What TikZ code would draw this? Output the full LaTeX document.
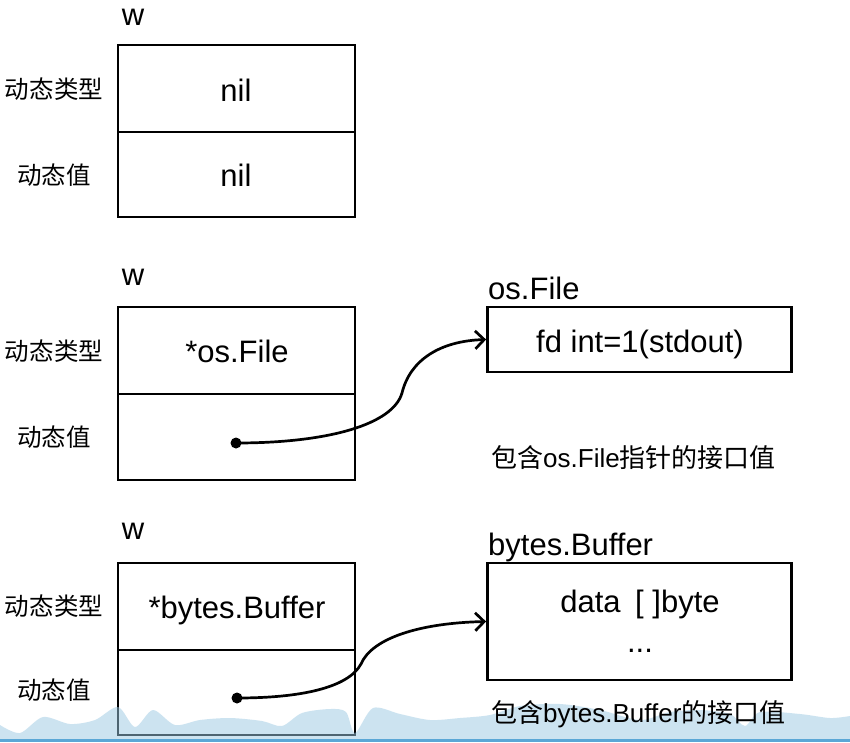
\documentclass[tikz,border=0pt]{standalone}
\usepackage{fontspec}
\setmainfont{Liberation Sans}
\newfontfamily\cjk{Noto Sans CJK SC}
\usetikzlibrary{arrows.meta}
\definecolor{wave}{RGB}{155,201,227}
\definecolor{waveline}{RGB}{90,167,214}
\tikzset{
  cell/.style={draw, line width=2.8pt, inner sep=0pt},
  lbl/.style={font=\cjk\fontsize{24.5}{28}\selectfont, anchor=center, inner sep=0pt},
  txt/.style={font=\fontsize{31}{36}\selectfont, anchor=base, inner sep=0pt},
  captxt/.style={font=\fontsize{26}{30}\selectfont, anchor=west, inner sep=0pt},
  dotnode/.style={circle, fill, inner sep=0pt, minimum size=11pt},
  ptr/.style={line width=2.7pt, -{Straight Barb[length=9pt,width=18pt,line width=2.7pt]}},
}
\begin{document}
\begin{tikzpicture}[x=1pt,y=-1pt]
\useasboundingbox (0,0) rectangle (850,742);
\fill[white] (0,0) rectangle (850,742);

% ---- block 1 ----
\node[txt] (w1) at (133,25) {w};
\node[cell, minimum width=237pt, minimum height=87pt] (t1) at (236.5,88.5) {};
\node[cell, minimum width=237pt, minimum height=85pt] (v1) at (236.5,174.5) {};
\node[txt] (t1txt) at (236,101) {nil};
\node[txt] (v1txt) at (236,186) {nil};
\node[lbl] (l1a) at (54,89) {动态类型};
\node[lbl] (l1b) at (54,175) {动态值};

% ---- block 2 ----
\node[txt] (w2) at (133,285) {w};
\node[cell, minimum width=237pt, minimum height=87pt] (t2) at (236.5,350.5) {};
\node[cell, minimum width=237pt, minimum height=86pt] (v2) at (236.5,437) {};
\node[txt] (t2txt) at (237,362) {*os.File};
\node[lbl] (l2a) at (54,351) {动态类型};
\node[lbl] (l2b) at (54,437) {动态值};
\node[txt, anchor=base west] (f1lbl) at (488,299) {os.File};
\node[cell, minimum width=304pt, minimum height=65pt] (f1) at (639.5,339.5) {};
\node[txt] (f1txt) at (640,352) {fd int=1(stdout)};
\node[captxt] (c1) at (491,458) {{\cjk 包含}os.File{\cjk 指针的接口值}};
\node[dotnode] (d1) at (236,443) {};
\coordinate (k1) at (402,393);
\draw[ptr] (d1.center) .. controls (330,443) and (393,424) .. (k1)
  .. controls (410,360) and (440,341) .. (f1.west);

% ---- block 3 ----
\node[txt] (w3) at (133,539) {w};
\node[cell, minimum width=237pt, minimum height=87pt] (t3) at (236.5,606.5) {};
\node[cell, minimum width=237pt, minimum height=85pt] (v3) at (236.5,692.5) {};
\node[txt] (t3txt) at (237,618) {*bytes.Buffer};
\node[lbl] (l3a) at (54,606) {动态类型};
\node[lbl] (l3b) at (54,690) {动态值};
\node[txt, anchor=base west] (b1lbl) at (488,555) {bytes.Buffer};
\node[cell, minimum width=304pt, minimum height=117pt] (b1) at (639.5,621.5) {};
\node[txt] (b1txt) at (640,612) {data\hspace{6pt} [ ]byte};
\node[txt] (b1dots) at (640,652) {...};
\node[dotnode] (d2) at (237,698) {};
\coordinate (k2) at (361,664);
\draw[ptr] (d2.center) .. controls (300,698) and (348,688) .. (k2)
  .. controls (372,638) and (420,623) .. (b1.west);

% ---- bottom wave ----
\fill[wave, opacity=0.5] plot[smooth] coordinates {(0,725) (20,733) (43,717) (70,724) (95,720) (118,707) (135,727) (153,710) (175,725) (200,720) (230,718) (262,721) (282,726) (302,713) (330,709) (346,712) (355,733) (373,708) (400,714) (430,720) (460,718) (490,715) (520,706) (560,704) (600,710) (640,720) (670,712) (700,710) (730,714) (745,726) (760,712) (800,714) (830,718) (850,716)}
  -- (850,739) -- (0,739) -- cycle;
\fill[waveline] (0,739) rectangle (850,742);
\node[captxt] (c2) at (491,714) {{\cjk 包含}bytes.Buffer{\cjk 的接口值}};
\end{tikzpicture}
\end{document}
